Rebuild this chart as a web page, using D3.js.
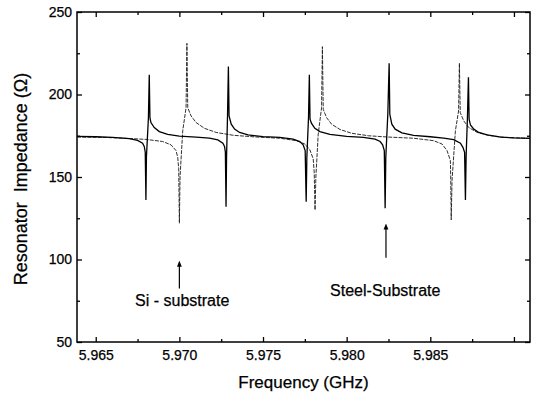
<!DOCTYPE html>
<html>
<head>
<meta charset="utf-8">
<script src="https://cdn.jsdelivr.net/npm/d3@7"></script>
<style>
  body { margin: 0; background: #fff; }
  text { font-family: "Liberation Sans", Arial, Helvetica, sans-serif; fill: #000; stroke: #000; stroke-width: 0.25px; }
</style>
</head>
<body>
<svg width="534" height="398"></svg>
<script>
// frequency (GHz), impedance (ohm)
const siCurve = [
  [5.96388, 174.6], [5.9650, 174.4], [5.9660, 174.0], [5.9670, 173.2], [5.9675, 172.2],
  [5.9678, 170.5], [5.9679, 168.5], [5.96796, 165], [5.96800, 136], [5.96803, 162],
  [5.96815, 186], [5.96820, 212], [5.96824, 186], [5.9683, 183], [5.9685, 180],
  [5.9688, 177.5], [5.9693, 175.8], [5.9700, 174.8], [5.9710, 174.2], [5.9718, 173.5],
  [5.9723, 172.5], [5.9726, 170.5], [5.9727, 168.5], [5.97275, 165], [5.97279, 132],
  [5.97282, 162], [5.97288, 188], [5.97293, 217], [5.97297, 187], [5.9731, 182],
  [5.9733, 179], [5.9736, 177], [5.9741, 175.5], [5.9750, 174.5], [5.9760, 174.0],
  [5.9768, 173.0], [5.9772, 171.5], [5.9774, 169.5], [5.97752, 166], [5.97758, 135],
  [5.97762, 162], [5.97772, 186], [5.97777, 212], [5.97781, 185], [5.9779, 182.5],
  [5.9781, 179.5], [5.9784, 177.5], [5.9790, 175.8], [5.9800, 174.6], [5.9810, 174.0],
  [5.9817, 173.0], [5.9820, 171.5], [5.98215, 169.5], [5.98225, 166], [5.98230, 131],
  [5.98234, 162], [5.98246, 188], [5.98254, 219], [5.98258, 188], [5.9827, 182],
  [5.9829, 179], [5.9833, 176.8], [5.9840, 175.2], [5.9850, 174.4], [5.9858, 173.6],
  [5.9864, 172.6], [5.9868, 170.5], [5.98695, 168], [5.98705, 165], [5.98710, 136],
  [5.98714, 162], [5.98722, 186], [5.98728, 210.5], [5.98732, 185], [5.9874, 181.5],
  [5.9876, 179], [5.9879, 177], [5.9884, 175.5], [5.9892, 174.2], [5.9900, 173.7],
  [5.99096, 173.4]
]

const steelCurve = [
  [5.96388, 174.2], [5.9655, 174.0], [5.9665, 173.6], [5.9680, 172.8], [5.9690, 171.5],
  [5.9695, 169.5], [5.9698, 166], [5.9699, 162], [5.96996, 155], [5.97000, 122],
  [5.97004, 150], [5.9702, 178], [5.97040, 192], [5.97045, 231], [5.97050, 192],
  [5.9707, 187], [5.9710, 183], [5.9715, 179.5], [5.9722, 177], [5.9732, 175.3],
  [5.9745, 174.3], [5.9760, 173.5], [5.9770, 172], [5.9775, 170], [5.9778, 166.5],
  [5.9780, 161], [5.97806, 153], [5.97811, 130], [5.97816, 150], [5.9783, 176],
  [5.97850, 192], [5.97855, 229], [5.97860, 191], [5.9788, 186], [5.9791, 182],
  [5.9796, 178.8], [5.9803, 176.5], [5.9813, 175], [5.9825, 174.2], [5.9840, 173.5],
  [5.9852, 172], [5.9857, 170], [5.9860, 166], [5.9862, 160], [5.98622, 150],
  [5.98625, 124], [5.98630, 148], [5.9865, 178], [5.98669, 190], [5.98674, 219],
  [5.98679, 189], [5.9870, 184], [5.9873, 180], [5.9878, 177], [5.9885, 175.2],
  [5.9895, 174.0], [5.99096, 173.4]
]

const xMajor = [5.965, 5.970, 5.975, 5.980, 5.985, 5.990]
const xMinor = [5.9675, 5.9725, 5.9775, 5.9825, 5.9875]
const xLabels = ['5.965', '5.970', '5.975', '5.980', '5.985', '']
const yMajor = [50, 100, 150, 200, 250]
const yMinor = [75, 125, 175, 225]

// arrows: frequency, tail and tip impedance; labels: text, frequency, impedance
const arrows = [[5.9700, 82.5, 97.5], [5.98235, 101, 120]]
const notes = [['Si - substrate', 5.96735, 72], ['Steel-Substrate', 5.97901, 78]]

const width = 534
const height = 398
const margin = { top: 12, right: 4, bottom: 56, left: 77 }
const innerW = width - margin.left - margin.right
const innerH = height - margin.top - margin.bottom

const svg = d3.select('svg')
const g = svg.append('g').attr('transform', `translate(${margin.left},${margin.top})`)

const x = d3.scaleLinear().domain([5.96388, 5.99096]).range([0, innerW])
const y = d3.scaleLinear().domain([50, 250]).range([innerH, 0])

g.append('clipPath').attr('id', 'clip')
  .append('rect').attr('width', innerW).attr('height', innerH)

const line = d3.line().x(d => x(d[0])).y(d => y(d[1]))

const plot = g.append('g').attr('clip-path', 'url(#clip)')

plot.append('path')
    .datum(steelCurve)
    .attr('d', line)
    .attr('fill', 'none')
    .attr('stroke', '#1a1a1a')
    .attr('stroke-width', 0.9)
    .attr('stroke-dasharray', '4,1.2')

plot.append('path')
    .datum(siCurve)
    .attr('d', line)
    .attr('fill', 'none')
    .attr('stroke', '#000')
    .attr('stroke-width', 1.3)

// axes, ticks pointing in
const addAxis = (axis, transform, labels) => {
  const a = g.append('g').attr('transform', transform).call(axis)
  a.select('.domain').remove()
  a.selectAll('line').attr('stroke', '#000').attr('stroke-width', 1.3)
  a.selectAll('text').style('font-size', '14px')
  if (!labels) a.selectAll('text').remove()
  return a
}

addAxis(d3.axisBottom(x).tickValues(xMajor).tickSizeInner(-5).tickSizeOuter(0)
  .tickPadding(8).tickFormat((d, i) => xLabels[i]), `translate(0,${innerH})`, true)
addAxis(d3.axisBottom(x).tickValues(xMinor).tickSizeInner(-3).tickSizeOuter(0),
  `translate(0,${innerH})`, false)
addAxis(d3.axisTop(x).tickValues(xMajor).tickSizeInner(-5).tickSizeOuter(0), 'translate(0,0)', false)
addAxis(d3.axisTop(x).tickValues(xMinor).tickSizeInner(-3).tickSizeOuter(0), 'translate(0,0)', false)

addAxis(d3.axisLeft(y).tickValues(yMajor).tickSizeInner(-5).tickSizeOuter(0)
  .tickPadding(5).tickFormat(d3.format('d')), 'translate(0,0)', true)
addAxis(d3.axisLeft(y).tickValues(yMinor).tickSizeInner(-3).tickSizeOuter(0), 'translate(0,0)', false)
addAxis(d3.axisRight(y).tickValues(yMajor).tickSizeInner(-5).tickSizeOuter(0), `translate(${innerW},0)`, false)
addAxis(d3.axisRight(y).tickValues(yMinor).tickSizeInner(-3).tickSizeOuter(0), `translate(${innerW},0)`, false)

g.append('rect')
    .attr('width', innerW)
    .attr('height', innerH)
    .attr('fill', 'none')
    .attr('stroke', '#000')
    .attr('stroke-width', 1.5)

// annotation arrows
const defs = svg.append('defs')
defs.append('marker')
    .attr('id', 'head')
    .attr('viewBox', '0 0 10 10')
    .attr('refX', 5).attr('refY', 5)
    .attr('markerWidth', 5).attr('markerHeight', 7)
    .attr('orient', 'auto')
  .append('path').attr('d', 'M0,1 L10,5 L0,9 z').attr('fill', '#000')

g.selectAll('.arrow')
  .data(arrows)
  .enter()
  .append('line')
    .attr('x1', d => x(d[0]))
    .attr('x2', d => x(d[0]))
    .attr('y1', d => y(d[1]))
    .attr('y2', d => y(d[2]))
    .attr('stroke', '#000')
    .attr('stroke-width', 1.2)
    .attr('marker-end', 'url(#head)')

g.selectAll('.note')
  .data(notes)
  .enter()
  .append('text')
    .attr('x', d => x(d[1]))
    .attr('y', d => y(d[2]))
    .style('font-size', '16px')
    .text(d => d[0])

svg.append('text')
    .attr('x', margin.left + innerW / 2)
    .attr('y', 388)
    .attr('text-anchor', 'middle')
    .style('font-size', '17px')
    .text('Frequency (GHz)')

svg.append('text')
    .attr('transform', `translate(27,${margin.top + innerH / 2 + 2}) rotate(-90)`)
    .attr('text-anchor', 'middle')
    .style('font-size', '18px')
    .style('white-space', 'pre')
    .text('Resonator  Impedance (Ω)')
</script>
</body>
</html>
